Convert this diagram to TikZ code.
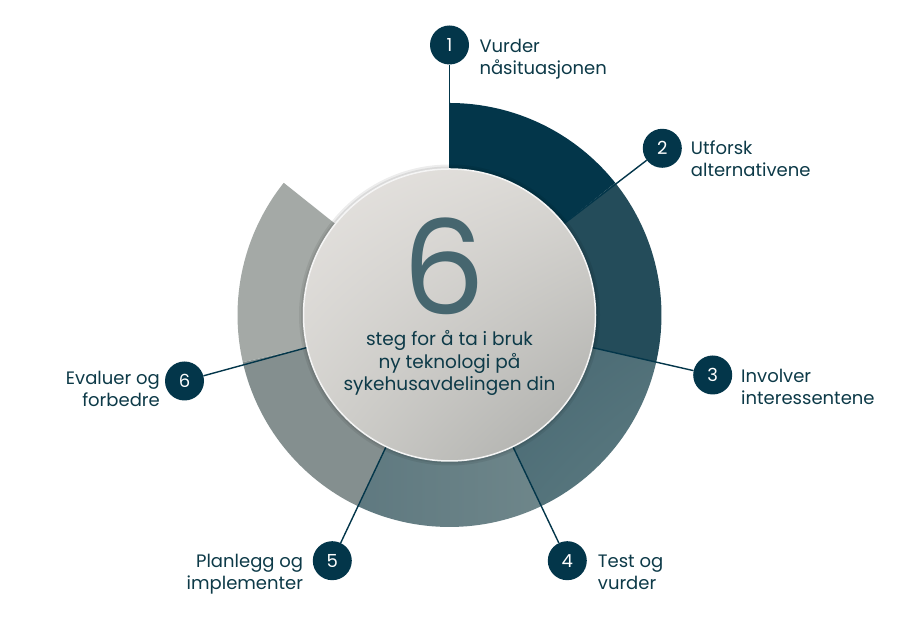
\documentclass[tikz,border=0pt]{standalone}
\usepackage{fontspec}
\setmainfont{Poppins}
\usetikzlibrary{calc,shadings}
\definecolor{s1}{HTML}{03364A}
\definecolor{s2}{HTML}{244C5A}
\definecolor{s3a}{HTML}{436470}
\definecolor{s3m}{HTML}{4D6D76}
\definecolor{s3b}{HTML}{5E7C82}
\definecolor{s4a}{HTML}{5F7980}
\definecolor{s4b}{HTML}{6E868A}
\definecolor{s5}{HTML}{848F8F}
\definecolor{s6}{HTML}{A4A9A6}
\definecolor{ink}{HTML}{0D3A48}
\definecolor{sixc}{HTML}{46666F}
\definecolor{cul}{HTML}{E6E3E0}
\definecolor{cur}{HTML}{DAD8D4}
\definecolor{cll}{HTML}{D0CFCB}
\definecolor{clr}{HTML}{AAABA8}
\newcommand\ringseg[3]{\path[#3] (C) -- ($(C)+(#1:212)$) arc[start angle=#1, end angle=#2, radius=212pt] -- cycle;}
\tikzset{
  num/.style={circle, fill=s1, minimum size=39pt, inner sep=0pt, text=white, font=\fontsize{18}{18}\selectfont},
  lbl/.style={text=ink, font=\fontsize{18}{22}\selectfont, inner sep=0pt},
  lead/.style={draw=s1, line width=1.4pt},
}
\begin{document}
\begin{tikzpicture}[x=1pt,y=1pt]
\useasboundingbox (0,0) rectangle (900,620);
\fill[white] (0,0) rectangle (900,620);
\coordinate (C) at (449.5,305);
% ring segments
\ringseg{90}{38.57}{fill=s1}
\ringseg{38.57}{-12.86}{fill=s2}
\ringseg{-12.86}{-64.29}{upper left=s3a, upper right=s3m, lower left=s3m, lower right=s3b}
\ringseg{-64.29}{-115.71}{left color=s4a, right color=s4b}
\ringseg{-115.71}{-167.14}{fill=s5}
\ringseg{-167.14}{-218.57}{fill=s6}
% step nodes
\node[num] (n1) at (449.5,575) {1};
\node[num] (n2) at (662.3,471.7) {2};
\node[num] (n3) at (712.7,245) {3};
\node[num] (n4) at (567.3,59.3) {4};
\node[num] (n5) at (332.3,59.3) {5};
\node[num] (n6) at (184.5,239) {6};
% leader start points on the inner circle
\coordinate (p1) at ($(C)+(90:146)$);
\coordinate (p2) at ($(C)+(38.57:146)$);
\coordinate (p3) at ($(C)+(-12.86:146)$);
\coordinate (p4) at ($(C)+(-64.29:146)$);
\coordinate (p5) at ($(C)+(-115.71:146)$);
\coordinate (p6) at ($(C)+(-167.14:146)$);
\foreach \i in {1,...,6} {\draw[lead] (p\i) -- (n\i);}
% inner disc
\fill[black, opacity=0.07] (C) circle (150.5pt);
\fill[black, opacity=0.08] (C) circle (148.5pt);
\shade[upper left=cul, upper right=cur, lower left=cll, lower right=clr] (C) circle (146pt);
\draw[white!92!gray, line width=1.5pt] (C) circle (146pt);
\node[text=sixc, font=\fontsize{131}{131}\selectfont, anchor=base, inner sep=0pt, text depth=0pt, text height=93pt] (six) at (444,305) {6};
\node[text=ink, align=center, font=\fontsize{18.5}{22.5}\selectfont, anchor=base, inner sep=0pt] (ctext) at (449.5,229.3) {steg for å ta i bruk\\ny teknologi på\\sykehusavdelingen din};
% labels (anchor = baseline of the last line)
\node[lbl, align=left, anchor=base west] (l1) at (479.3,545) {Vurder\\nåsituasjonen};
\node[lbl, align=left, anchor=base west] (l2) at (690.7,443) {Utforsk\\alternativene};
\node[lbl, align=left, anchor=base west] (l3) at (741,215) {Involver\\interessentene};
\node[lbl, align=left, anchor=base west] (l4) at (597.7,30) {Test og\\vurder};
\node[lbl, align=right, anchor=base east] (l5) at (303.3,30) {Planlegg og\\implementer};
\node[lbl, align=right, anchor=base east] (l6) at (160,213.3) {Evaluer og\\forbedre};
\end{tikzpicture}
\end{document}
